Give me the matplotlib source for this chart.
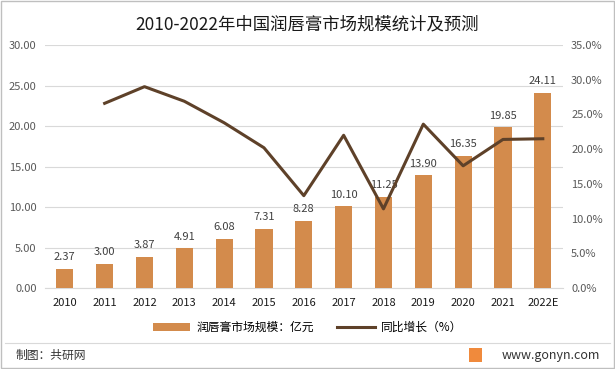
import matplotlib
matplotlib.use("Agg")
import matplotlib.pyplot as plt
from matplotlib.lines import Line2D
from matplotlib.patches import Patch, Rectangle

plt.rcParams['font.family'] = ['Noto Sans CJK SC', 'DejaVu Sans']

years = ['2010', '2011', '2012', '2013', '2014', '2015', '2016', '2017',
         '2018', '2019', '2020', '2021', '2022E']
market = [2.37, 3.00, 3.87, 4.91, 6.08, 7.31, 8.28, 10.10, 11.25, 13.90, 16.35, 19.85, 24.11]
growth = [None, 26.6, 29.0, 26.9, 23.8, 20.2, 13.3, 22.0, 11.4, 23.6, 17.6, 21.4, 21.5]

bar_color = '#D38B4C'
line_color = '#5E4129'

fig = plt.figure(figsize=(6.15, 3.69), dpi=100)
ax = fig.add_axes([0.073, 0.2195, 0.842, 0.6585])
x = list(range(len(years)))
ax.bar(x, market, width=0.43, color=bar_color, zorder=3)
for xi, v in zip(x, market):
    ax.text(xi, v + 0.8, f'{v:.2f}', ha='center', va='bottom', fontsize=8, color='#404040')
ax.set_ylim(0, 30)
ax.set_xlim(-0.5, len(years) - 0.5)
ax.set_yticks([0, 5, 10, 15, 20, 25, 30])
ax.set_yticklabels([f'{v:.2f}' for v in [0, 5, 10, 15, 20, 25, 30]])
ax.grid(axis='y', color='#D9D9D9', linewidth=0.8, zorder=0)
ax.set_xticks(x)
ax.set_xticklabels(years, fontsize=8, color='#1a1a1a')
ax.tick_params(axis='y', labelsize=8, labelcolor='#595959', length=0, pad=6)
ax.tick_params(axis='x', length=0, pad=7)
for s in ax.spines.values():
    s.set_visible(False)
ax.spines['bottom'].set_visible(True)
ax.spines['bottom'].set_color('#D9D9D9')

ax2 = ax.twinx()
gx = [xi for xi, g in zip(x, growth) if g is not None]
gy = [g for g in growth if g is not None]
ax2.plot(gx, gy, color=line_color, linewidth=2.2, zorder=4)
ax2.set_ylim(0, 35)
ax2.set_yticks([0, 5, 10, 15, 20, 25, 30, 35])
ax2.set_yticklabels([f'{v:.1f}%' for v in [0, 5, 10, 15, 20, 25, 30, 35]])
ax2.tick_params(axis='y', labelsize=8, labelcolor='#595959', length=0, pad=6)
for s in ax2.spines.values():
    s.set_visible(False)

fig.text(0.5, 0.935, '2010-2022年中国润唇膏市场规模统计及预测', ha='center', va='center',
         fontsize=12.5, color='#1a1a1a')

handles = [Patch(facecolor=bar_color, edgecolor='none'),
           Line2D([0], [0], color=line_color, linewidth=2.2)]
fig.legend(handles, ['润唇膏市场规模：亿元', '同比增长（%）'], loc='center',
           bbox_to_anchor=(0.5, 0.112), ncol=2, frameon=False, fontsize=8.5,
           handlelength=3.2, columnspacing=2.0, handletextpad=0.5)

fig.add_artist(Line2D([0.008, 0.992], [0.07, 0.07], transform=fig.transFigure,
                      color='#D9D9D9', linewidth=0.8))
fig.text(0.025, 0.036, '制图：共研网', ha='left', va='center', fontsize=8.5, color='#333333')
fig.text(0.975, 0.036, 'www.gonyn.com', ha='right', va='center', fontsize=9, color='#333333')
fig.add_artist(Rectangle((0.762, 0.018), 0.022, 0.038, transform=fig.transFigure,
                         facecolor='#F08A3C', edgecolor='none'))
fig.add_artist(Rectangle((0.002, 0.003), 0.996, 0.994, transform=fig.transFigure,
                         fill=False, edgecolor='#BFBFBF', linewidth=1))

fig.savefig('out.png', dpi=100)
